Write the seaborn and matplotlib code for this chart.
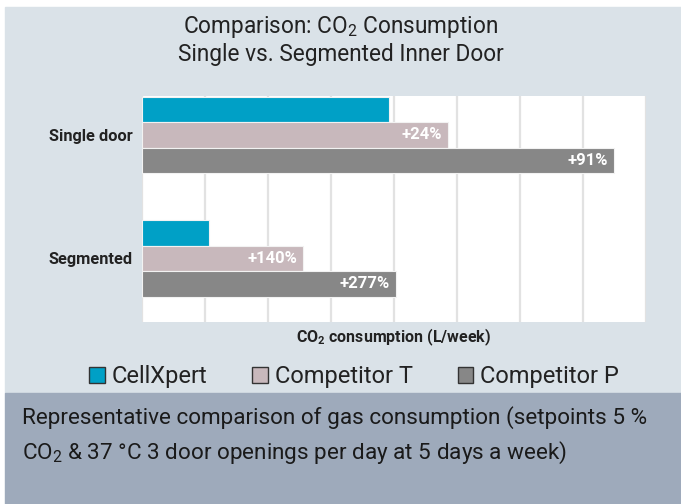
import matplotlib as mpl
mpl.use('Agg')
import matplotlib.pyplot as plt
from matplotlib.patches import Rectangle, Patch
import pandas as pd
import seaborn as sns

# values (grid step = 5 L/week)
categories = ['Single door', 'Segmented']
systems = ['CellXpert', 'Competitor T', 'Competitor P']
cellxpert = [19.6, 5.35]
competitor_t = [24.3, 12.8]
competitor_p = [37.45, 20.15]
pct_t = ['+24%', '+140%']
pct_p = ['+91%', '+277%']
colors = ['#00a0c6', '#c8b8bc', '#878787']

sns.set_theme(style='white')
plt.rcParams['font.family'] = ['Roboto', 'DejaVu Sans']
plt.rcParams['mathtext.fontset'] = 'custom'
plt.rcParams['mathtext.rm'] = 'Roboto'
plt.rcParams['mathtext.bf'] = 'Roboto:bold'

rows = []
for sys_name, vals in zip(systems, [cellxpert, competitor_t, competitor_p]):
    for cat, v in zip(categories, vals):
        rows.append({'category': cat, 'system': sys_name, 'value': v})
df = pd.DataFrame(rows)

fig = plt.figure(figsize=(6.81, 5.04), dpi=100, facecolor='white')

# background panels
fig.patches.append(Rectangle((5 / 681, 111 / 504), 676 / 681, 386 / 504,
                             transform=fig.transFigure, color='#dae2e8', zorder=-10))
fig.patches.append(Rectangle((5 / 681, 0), 676 / 681, 111 / 504,
                             transform=fig.transFigure, color='#9eaabb', zorder=-10))

ax = fig.add_axes([142 / 681, 1 - 322 / 504, 504 / 681, 226 / 504])
ax.set_facecolor('white')
sns.barplot(data=df, y='category', x='value', hue='system', orient='h',
            palette=colors, saturation=1, width=0.62, edgecolor='#f2f2f2',
            linewidth=0.8, legend=False, ax=ax)

for cont, labels in zip(ax.containers[1:], [pct_t, pct_p]):
    texts = ax.bar_label(cont, labels=labels, padding=-4.5, color='white',
                         fontweight='bold', fontsize=12)
    for t in texts:
        t.set_ha('right')

ax.set_xlim(0, 40)
ax.set_ylim(1.516, -0.315)
ax.set_xticks(range(0, 41, 5))
ax.xaxis.grid(True, color='#e2e2e2', linewidth=1.6)
ax.set_axisbelow(True)
ax.tick_params(axis='x', length=0, labelbottom=False)
ax.tick_params(axis='y', length=0, pad=7)
for lab in ax.get_yticklabels():
    lab.set_fontweight('bold')
    lab.set_fontsize(11.8)
    lab.set_color('#222222')
for s in ax.spines.values():
    s.set_visible(False)
ax.set_ylabel('')
ax.set_xlabel(r'$\mathbf{CO_2}$ consumption (L/week)', fontweight='bold',
              fontsize=11.5, color='#222222', labelpad=3)

fig.text(0.5, 1 - 40 / 504, 'Comparison: $\\mathregular{CO_2}$ Consumption\nSingle vs. Segmented Inner Door',
         ha='center', va='center', fontsize=16.3, color='#222222', linespacing=1.12)

handles = [Patch(facecolor=c, edgecolor='#333333', linewidth=1) for c in colors]
fig.legend(handles, systems, loc='center', bbox_to_anchor=(354 / 681, 1 - 377 / 504),
           ncol=3, frameon=False, fontsize=17, handlelength=0.65, handleheight=0.65,
           handletextpad=0.3, columnspacing=1.9, labelcolor='#222222')

fig.text(22 / 681, 1 - 436 / 504,
         'Representative comparison of gas consumption (setpoints 5 %\n'
         '$\\mathregular{CO_2}$ & 37 °C 3 door openings per day at 5 days a week)',
         ha='left', va='center', fontsize=16.2, color='#1a1a1a', linespacing=1.55)

fig.savefig('out.png', dpi=100, facecolor='white')
